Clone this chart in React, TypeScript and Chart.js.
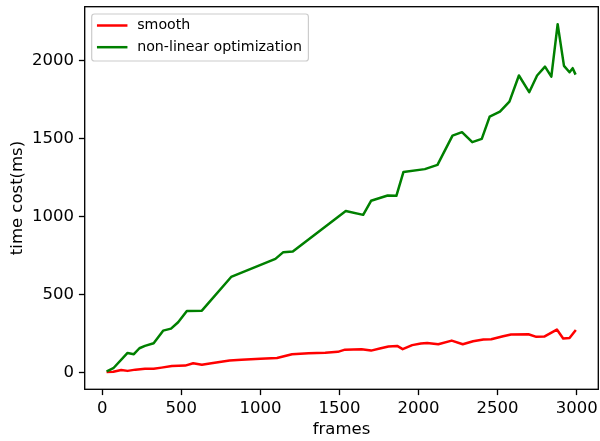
import React, { useEffect, useRef } from "react";
import { Chart, registerables } from "chart.js";

Chart.register(...registerables);

const smoothFrames = [35, 70, 120, 160, 210, 270, 325, 375, 440, 525, 575, 630, 690, 805, 880, 1000, 1105, 1200, 1305, 1410, 1490, 1535, 1640, 1700, 1755, 1810, 1865, 1900, 1960, 2015, 2055, 2125, 2210, 2280, 2345, 2410, 2460, 2535, 2585, 2695, 2745, 2795, 2875, 2915, 2955, 2990];
const smoothValues = [2, 4, 15, 9, 17, 22, 22, 30, 41, 43, 58, 49, 58, 75, 81, 86, 92, 116, 122, 126, 131, 145, 148, 139, 152, 165, 169, 148, 174, 184, 188, 180, 203, 180, 199, 210, 212, 231, 242, 244, 227, 229, 274, 216, 220, 265];

const nloFrames = [35, 70, 160, 200, 235, 270, 325, 385, 435, 480, 535, 630, 815, 1095, 1145, 1205, 1540, 1650, 1700, 1805, 1860, 1905, 2040, 2120, 2215, 2275, 2340, 2400, 2450, 2515, 2575, 2635, 2700, 2750, 2800, 2840, 2880, 2920, 2955, 2975, 2990];
const nloValues = [9, 26, 124, 116, 154, 169, 186, 267, 280, 321, 393, 395, 611, 727, 770, 774, 1034, 1009, 1099, 1133, 1131, 1284, 1302, 1329, 1517, 1539, 1475, 1496, 1639, 1671, 1735, 1902, 1795, 1902, 1959, 1895, 2231, 1964, 1923, 1949, 1915];

const seriesLabels = ["smooth", "non-linear optimization"];
const xTickValues = [0, 500, 1000, 1500, 2000, 2500, 3000];
const yTickValues = [0, 500, 1000, 1500, 2000];
const xTitle = "frames";
const yTitle = "time cost(ms)";

const FONT = "'DejaVu Sans', sans-serif";

const framePlugin = {
  id: "mplFrame",
  afterDatasetsDraw(chart: any) {
    const { ctx, chartArea } = chart;
    const { left, top, right, bottom } = chartArea;
    ctx.save();
    ctx.strokeStyle = "#000";
    ctx.lineWidth = 1.33;
    ctx.strokeRect(left, top, right - left, bottom - top);

    // legend
    const fontSize = 14.2;
    ctx.font = `${fontSize}px ${FONT}`;
    const labels = chart.data.datasets.map((d: any) => d.label);
    const colors = chart.data.datasets.map((d: any) => d.borderColor);
    let maxW = 0;
    labels.forEach((l: string) => {
      maxW = Math.max(maxW, ctx.measureText(l).width);
    });
    const bx = left + 7;
    const by = top + 7.3;
    const textX = bx + 45.5;
    const bw = textX - bx + maxW + 6.5;
    const bh = 47;
    const r = 2.8;
    ctx.beginPath();
    ctx.moveTo(bx + r, by);
    ctx.lineTo(bx + bw - r, by);
    ctx.arcTo(bx + bw, by, bx + bw, by + r, r);
    ctx.lineTo(bx + bw, by + bh - r);
    ctx.arcTo(bx + bw, by + bh, bx + bw - r, by + bh, r);
    ctx.lineTo(bx + r, by + bh);
    ctx.arcTo(bx, by + bh, bx, by + bh - r, r);
    ctx.lineTo(bx, by + r);
    ctx.arcTo(bx, by, bx + r, by, r);
    ctx.closePath();
    ctx.fillStyle = "rgba(255,255,255,0.8)";
    ctx.fill();
    ctx.strokeStyle = "#cccccc";
    ctx.lineWidth = 1.2;
    ctx.stroke();

    labels.forEach((l: string, i: number) => {
      const yy = by + 11.5 + i * 21.7;
      ctx.beginPath();
      ctx.strokeStyle = colors[i];
      ctx.lineWidth = 2.5;
      ctx.lineCap = "square";
      ctx.moveTo(bx + 6.5, yy);
      ctx.lineTo(bx + 34.5, yy);
      ctx.stroke();
      ctx.fillStyle = "#000";
      ctx.textBaseline = "middle";
      ctx.textAlign = "left";
      ctx.fillText(l, textX, yy);
    });
    ctx.restore();
  },
};

export default function App() {
  const canvasRef = useRef<HTMLCanvasElement | null>(null);

  useEffect(() => {
    const canvas = canvasRef.current;
    if (!canvas) return;
    const tickFont = { family: FONT, size: 16.5 };
    const chart = new Chart(canvas, {
      type: "line",
      data: {
        datasets: [
          {
            label: seriesLabels[0],
            data: smoothFrames.map((f, i) => ({ x: f, y: smoothValues[i] })),
            borderColor: "#ff0000",
            backgroundColor: "#ff0000",
            borderWidth: 2.5,
            pointRadius: 0,
            borderJoinStyle: "round",
            borderCapStyle: "square",
            tension: 0,
            order: 1,
          },
          {
            label: seriesLabels[1],
            data: nloFrames.map((f, i) => ({ x: f, y: nloValues[i] })),
            borderColor: "#008000",
            backgroundColor: "#008000",
            borderWidth: 2.5,
            pointRadius: 0,
            borderJoinStyle: "round",
            borderCapStyle: "square",
            tension: 0,
            order: 0,
          },
        ],
      },
      options: {
        responsive: false,
        animation: false,
        devicePixelRatio: 1,
        layout: { padding: { top: 6.7, right: 1.7, left: 0, bottom: 0 } },
        plugins: {
          legend: { display: false },
          tooltip: { enabled: false },
        },
        scales: {
          x: {
            type: "linear",
            min: -111,
            max: 3137,
            afterBuildTicks: (scale: any) => {
              scale.ticks = xTickValues.map((v) => ({ value: v }));
            },
            afterFit: (scale: any) => {
              scale.height = 51.7;
              scale.paddingLeft = 0;
              scale.paddingRight = 0;
            },
            ticks: {
              font: tickFont,
              color: "#000",
              padding: 4,
              maxRotation: 0,
              autoSkip: false,
              callback: (v: any) => String(v),
            },
            grid: {
              display: true,
              drawOnChartArea: false,
              drawTicks: true,
              tickLength: 5.8,
              tickWidth: 1.33,
              tickColor: "#000",
            },
            border: { display: false },
            title: {
              display: true,
              text: xTitle,
              font: tickFont,
              color: "#000",
              padding: { top: 0, bottom: 1 },
            },
          },
          y: {
            type: "linear",
            min: -109,
            max: 2343,
            afterBuildTicks: (scale: any) => {
              scale.ticks = yTickValues.map((v) => ({ value: v }));
            },
            afterFit: (scale: any) => {
              scale.width = 84.7;
              scale.paddingTop = 0;
              scale.paddingBottom = 0;
            },
            ticks: {
              font: tickFont,
              color: "#000",
              padding: 5,
              autoSkip: false,
              callback: (v: any) => String(v),
            },
            grid: {
              display: true,
              drawOnChartArea: false,
              drawTicks: true,
              tickLength: 5.8,
              tickWidth: 1.33,
              tickColor: "#000",
            },
            border: { display: false },
            title: {
              display: true,
              text: yTitle,
              font: tickFont,
              color: "#000",
              padding: { top: 8, bottom: 0 },
            },
          },
        },
      },
      plugins: [framePlugin],
    } as any);
    return () => chart.destroy();
  }, []);

  return (
    <div style={{ position: "absolute", left: 0, top: 0, width: 600, height: 441, background: "#fff" }}>
      <canvas ref={canvasRef} width={600} height={441} style={{ display: "block", width: 600, height: 441 }} />
    </div>
  );
}
